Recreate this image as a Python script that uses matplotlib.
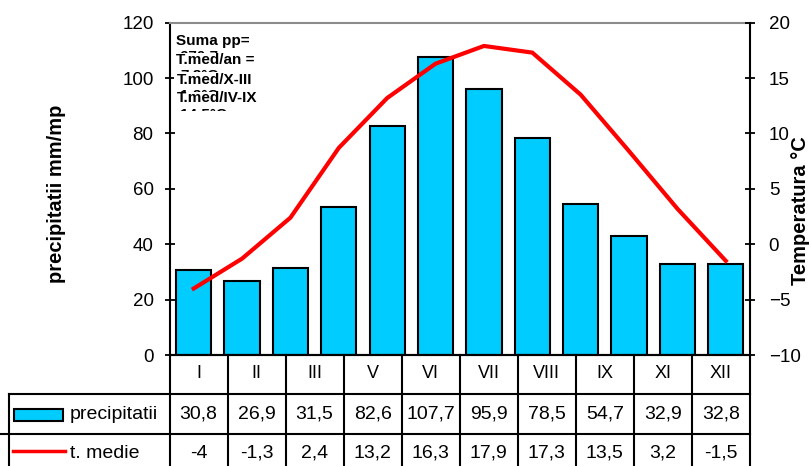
import matplotlib
matplotlib.use("Agg")
import matplotlib.pyplot as plt
from matplotlib.lines import Line2D
from matplotlib.patches import Rectangle

plt.rcParams['font.family'] = ['Liberation Sans', 'DejaVu Sans']

# Monthly climate data
months = ["I", "II", "III", "IV", "V", "VI", "VII", "VIII", "IX", "X", "XI", "XII"]
precip = [30.8, 26.9, 31.5, 53.3, 82.6, 107.7, 95.9, 78.5, 54.7, 43.1, 32.9, 32.8]
temp = [-4, -1.3, 2.4, 8.7, 13.2, 16.3, 17.9, 17.3, 13.5, 8.4, 3.2, -1.5]

# Months listed in the data table under the chart
table_months = ["I", "II", "III", "V", "VI", "VII", "VIII", "IX", "XI", "XII"]

precip_ticks = [0, 20, 40, 60, 80, 100, 120]
temp_ticks = [-10, -5, 0, 5, 10, 15, 20]

BAR_COLOR = "#00CCFF"
LINE_COLOR = "#FF0000"

W, H = 809, 466
fig = plt.figure(figsize=(W / 100, H / 100), dpi=100)


def fx(x):
    return x / W


def fy(y):
    return 1 - y / H


AX_L, AX_R, AX_T, AX_B = 169.5, 750.0, 22.7, 355.0
ax = fig.add_axes([fx(AX_L), fy(AX_B), fx(AX_R) - fx(AX_L), fy(AX_T) - fy(AX_B)])
ax2 = ax.twinx()

x = list(range(len(months)))
ax.bar(x, precip, width=0.73, color=BAR_COLOR, edgecolor="black", linewidth=1.5, zorder=2)
ax.set_xlim(-0.5, len(months) - 0.5)
ax.set_ylim(precip_ticks[0], precip_ticks[-1])
ax.set_yticks(precip_ticks)

ax2.plot(x, temp, color=LINE_COLOR, linewidth=3, solid_joinstyle="miter", zorder=3)
ax2.set_ylim(temp_ticks[0], temp_ticks[-1])
ax2.set_yticks(temp_ticks)

for a in (ax, ax2):
    a.tick_params(axis="x", bottom=False, labelbottom=False, top=False)
ax.tick_params(axis="y", direction="inout", length=7, width=1.3, labelsize=13.5, pad=8)
ax2.tick_params(axis="y", direction="inout", length=7, width=1.3, labelsize=13.5, pad=10)

ax.spines["right"].set_visible(False)
ax.spines["top"].set_color("#8c8c8c")
ax.spines["top"].set_linewidth(1.5)
ax.spines["left"].set_linewidth(1.5)
ax.spines["bottom"].set_linewidth(1.5)
for s in ("top", "left", "bottom"):
    ax2.spines[s].set_visible(False)
ax2.spines["right"].set_linewidth(1.5)

# Axis titles
fig.text(fx(57), fy(194), "precipitatii mm/mp", rotation=90, ha="center", va="center",
         fontsize=14.5, fontweight="bold")
fig.text(fx(800), fy(211), "Temperatura °C", rotation=90, ha="center", va="center",
         fontsize=14.5, fontweight="bold")

# Summary box in the upper-left corner
t_annual = sum(temp) / len(temp)
cold = [temp[i] for i in (9, 10, 11, 0, 1, 2)]
warm = [temp[i] for i in (3, 4, 5, 6, 7, 8)]


def dec(v):
    return f"{v:.1f}".replace(".", ",")


summary_labels = ["Suma pp=", "T.med/an =", "T.med/X-III", "T.med/IV-IX"]
summary_values = [dec(sum(precip)) + " mm", dec(t_annual) + "°C",
                  dec(sum(cold) / len(cold)) + "°C", dec(sum(warm) / len(warm)) + "°C"]
label_tops = [34.0, 53.0, 72.5, 91.5]
for i, (lab, val) in enumerate(zip(summary_labels, summary_values)):
    vt = label_tops[i] + 15.8
    fig.text(fx(180), fy(vt), val, ha="left", va="top", fontsize=11, fontweight="bold",
             zorder=10)
    fig.add_artist(Rectangle((fx(174), fy(vt + 15.5)), fx(120), (15.5 - 3.3) / H,
                             transform=fig.transFigure, facecolor="white",
                             edgecolor="none", zorder=11))
    fig.text(fx(176.5), fy(label_tops[i]), lab, ha="left", va="top", fontsize=11,
             fontweight="bold", zorder=12)

# Data table under the plot
def hline(x0, x1, y):
    fig.add_artist(Line2D([fx(x0), fx(x1)], [fy(y), fy(y)], transform=fig.transFigure,
                          color="black", linewidth=1.5, zorder=20))


def vline(xp, y0, y1):
    fig.add_artist(Line2D([fx(xp), fx(xp)], [fy(y0), fy(y1)], transform=fig.transFigure,
                          color="black", linewidth=1.5, zorder=20))


ROW1, ROW2, ROW3, ROW_END = 355.0, 393.5, 433.5, 470.0
LEG_L = 8.5
ncol = len(table_months)
col_w = (AX_R - AX_L) / ncol
col_x = [AX_L + i * col_w for i in range(ncol + 1)]

for xp in col_x:
    vline(xp, ROW1, ROW_END)
vline(LEG_L, ROW2, ROW_END)
hline(AX_L, AX_R, ROW1)
hline(LEG_L, AX_R, ROW2)
hline(0, AX_R, ROW3)


def fmt(v):
    return f"{v:g}".replace(".", ",")


for i, m in enumerate(table_months):
    k = months.index(m)
    cx = (col_x[i] + col_x[i + 1]) / 2
    fig.text(fx(cx), fy(374), m, ha="center", va="center", fontsize=13, zorder=21)
    fig.text(fx(cx), fy(414), fmt(precip[k]), ha="center", va="center", fontsize=14,
             zorder=21)
    fig.text(fx(cx), fy(453), fmt(temp[k]), ha="center", va="center", fontsize=14,
             zorder=21)

# Legend keys inside the table
fig.add_artist(Rectangle((fx(13.5), fy(421)), fx(49.5), 12 / H, transform=fig.transFigure,
                         facecolor=BAR_COLOR, edgecolor="black", linewidth=1.5, zorder=21))
fig.text(fx(70), fy(414.5), "precipitatii", ha="left", va="center", fontsize=14, zorder=21)
fig.add_artist(Line2D([fx(13), fx(65)], [fy(451), fy(451)], transform=fig.transFigure,
                      color=LINE_COLOR, linewidth=2.5, zorder=21))
fig.text(fx(70), fy(454), "t. medie", ha="left", va="center", fontsize=14, zorder=21)

fig.savefig("out.png", dpi=100)
